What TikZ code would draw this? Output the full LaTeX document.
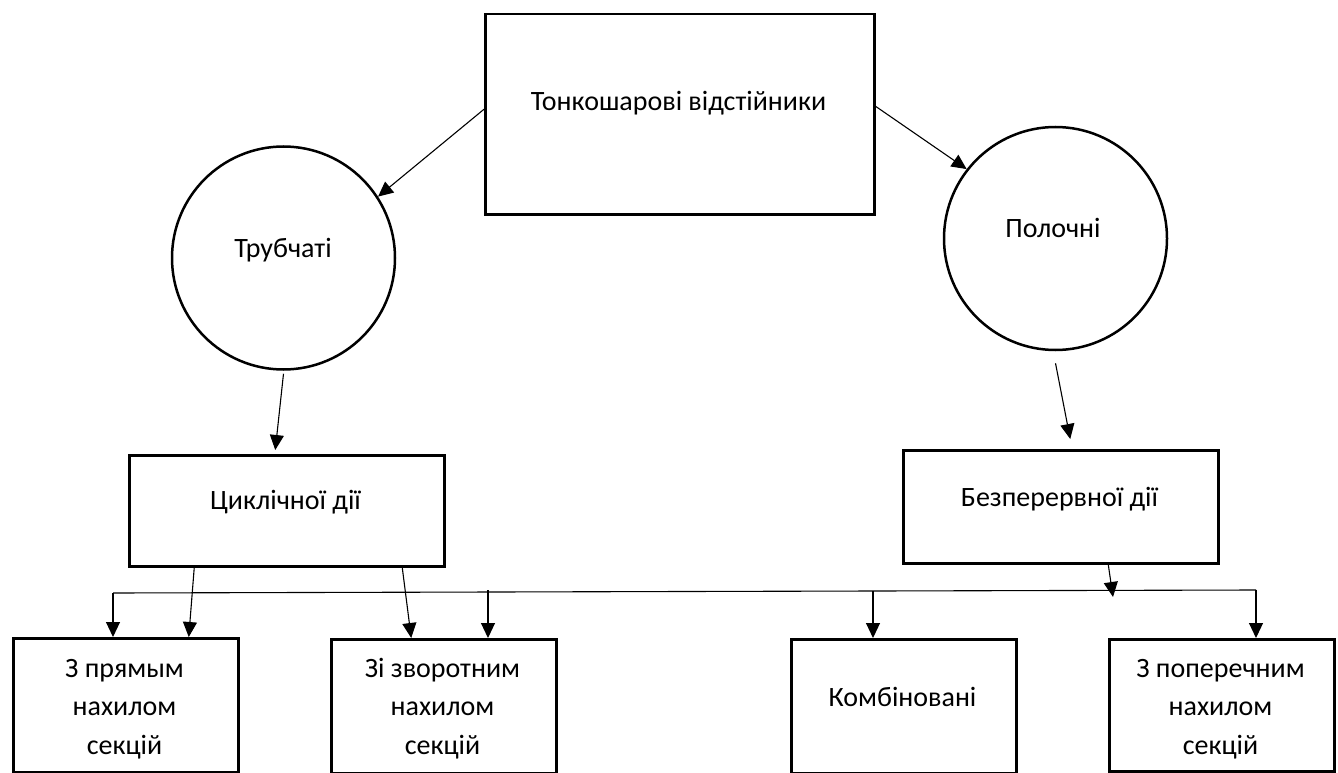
\documentclass[tikz,border=0pt]{standalone}
\usepackage{fontspec}
\setmainfont{Carlito}
\usetikzlibrary{arrows.meta}

\tikzset{
  shapebox/.style={draw, line width=2.5pt, rectangle, inner sep=0pt, anchor=north west},
  roundnode/.style={draw, line width=2.5pt, circle, inner sep=0pt, minimum size=223pt},
  label text/.style={font=\fontsize{28}{38.5}\selectfont, inner sep=0pt, align=center, anchor=base},
  link/.style={line width=1.1pt, -{Triangle[length=15pt,width=14pt]}},
  plain link/.style={line width=1.1pt}
}

\begin{document}
\begin{tikzpicture}[x=1pt, y=-1pt]
  \useasboundingbox (0,0) rectangle (1338,773);

  % main shapes
  \node[shapebox, minimum width=389pt, minimum height=200pt] (top) at (484,13) {};
  \node[roundnode] (trub) at (283.5,258) {};
  \node[roundnode] (pol) at (1055.5,238.5) {};
  \node[shapebox, minimum width=315pt, minimum height=111pt] (cikl) at (128,454) {};
  \node[shapebox, minimum width=315pt, minimum height=113pt] (bez) at (902,449) {};
  \node[shapebox, minimum width=225pt, minimum height=134pt] (b1) at (12,637) {};
  \node[shapebox, minimum width=225pt, minimum height=134pt] (b2) at (330,638) {};
  \node[shapebox, minimum width=225pt, minimum height=134pt] (b3) at (790,638) {};
  \node[shapebox, minimum width=225pt, minimum height=132pt] (b4) at (1108,638) {};

  % captions
  \node[label text] (ttop) at (678.5,111) {Тонкошарові відстійники};
  \node[label text] (ttrub) at (283,257) {Трубчаті};
  \node[label text] (tpol) at (1053,237) {Полочні};
  \node[label text] (tcikl) at (285.5,509) {Циклічної дії};
  \node[label text] (tbez) at (1059.5,506) {Безперервної дії};
  \node[label text] (tb1) at (124.5,754) {З прямым\\нахилом\\секцій};
  \node[label text] (tb2) at (442.5,754) {Зі зворотним\\нахилом\\секцій};
  \node[label text] (tb3) at (902.5,706) {Комбіновані};
  \node[label text] (tb4) at (1220.5,754) {З поперечним\\нахилом\\секцій};

  % distribution line above the lower row
  \coordinate (bl) at (113,593);
  \coordinate (v2) at (488,592);
  \coordinate (v3) at (873,591);
  \coordinate (br) at (1256,590);
  \coordinate (jn) at (1113,597);

  % connectors
  \draw[link] ([yshift=5pt]top.west) -- (trub.33);
  \draw[link] ([yshift=8pt]top.east) -- (pol.142);
  \draw[link] ([yshift=-3pt]trub.south) -- ([xshift=-11.5pt,yshift=4pt]cikl.north);
  \draw[link] ([yshift=-12pt]pol.south) -- ([xshift=9.5pt,yshift=10pt]bez.north);
  \draw[link] ([xshift=-92.5pt]cikl.south) -- ([xshift=63pt]b1.north);
  \draw[link] ([xshift=115.5pt]cikl.south) -- ([xshift=-32.5pt]b2.north);
  \draw[link] ([xshift=47.5pt]bez.south) -- (jn);

  \draw[plain link] (bl) -- (br);
  \draw[link] (bl) -- (bl |- b1.north);
  \draw[link] ([yshift=2pt]v2) -- (v2 |- b2.north);
  \draw[link] (v3) -- (v3 |- b3.north);
  \draw[link] (br) -- (br |- b4.north);
\end{tikzpicture}
\end{document}
